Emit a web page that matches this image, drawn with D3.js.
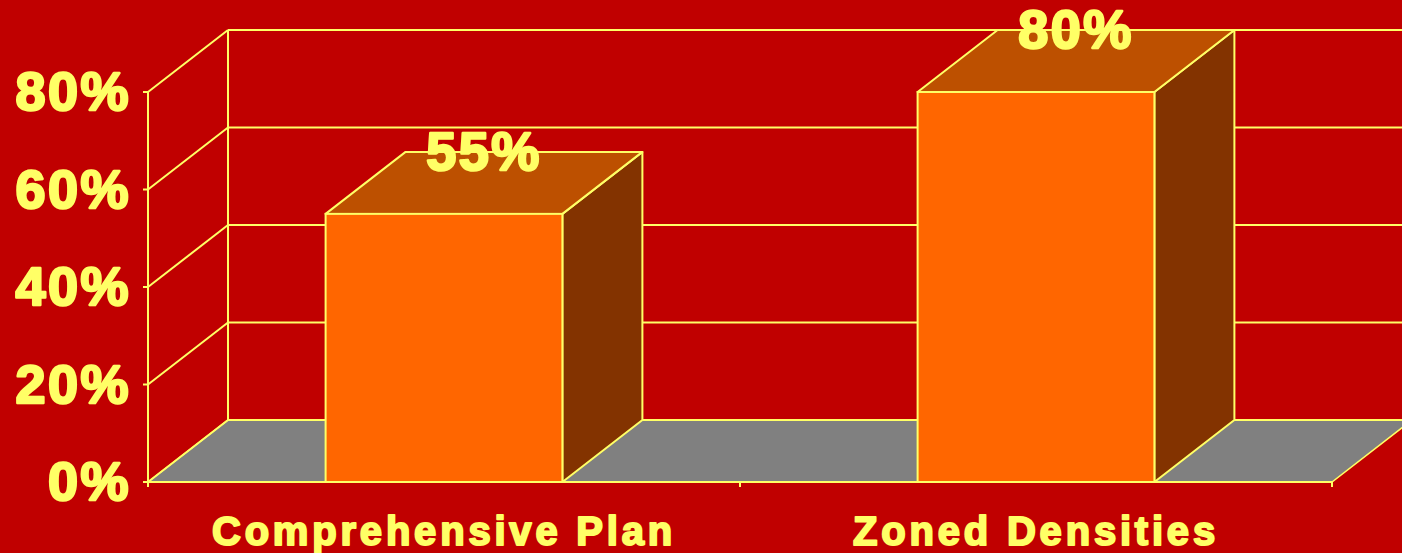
<!DOCTYPE html>
<html>
<head>
<meta charset="utf-8">
<script src="https://cdn.jsdelivr.net/npm/d3@7"></script>
<style>
  html, body { margin: 0; padding: 0; background: #C00000; overflow: hidden; }
</style>
</head>
<body>
<div class="canvas"></div>
<script>
const categories = ['Comprehensive Plan', 'Zoned Densities'];
const values = [0.55, 0.80];
const tickValues = [0, 0.2, 0.4, 0.6, 0.8];
const tickLabels = ['0%', '20%', '40%', '60%', '80%'];

const width = 1402, height = 553;
const yellow = '#FFFF66';
const depthX = 80, depthY = -62;   // 3d offset of back plane

const svg = d3.select('.canvas')
    .append('svg')
    .attr('width', width)
    .attr('height', height)
    .style('display', 'block')
    .style('background', '#C00000');

const x = d3.scaleBand()
    .domain(categories)
    .range([148, 1332])
    .paddingInner(0.6)
    .paddingOuter(0.3);

const y = d3.scaleLinear()
    .domain([0, 0.8])
    .range([482, 92]);

const x0 = x.range()[0], x1 = x.range()[1];
const y0 = y(0);

// floor
svg.append('path')
    .attr('d', `M${x0},${y0} L${x0 + depthX},${y0 + depthY} L${x1 + depthX},${y0 + depthY} L${x1},${y0} Z`)
    .attr('fill', '#808080')
    .attr('stroke', yellow)
    .attr('stroke-width', 1.5);

// back wall gridlines
svg.selectAll('.grid')
    .data(tickValues)
    .enter().append('line')
    .attr('class', 'grid')
    .attr('x1', x0 + depthX)
    .attr('x2', x1 + depthX)
    .attr('y1', d => y(d) + depthY)
    .attr('y2', d => y(d) + depthY)
    .attr('stroke', yellow)
    .attr('stroke-width', 2);

// side wall diagonals
svg.selectAll('.diag')
    .data(tickValues)
    .enter().append('line')
    .attr('class', 'diag')
    .attr('x1', x0)
    .attr('y1', d => y(d))
    .attr('x2', x0 + depthX)
    .attr('y2', d => y(d) + depthY)
    .attr('stroke', yellow)
    .attr('stroke-width', 2);

// back wall left edge
svg.append('line')
    .attr('x1', x0 + depthX).attr('x2', x0 + depthX)
    .attr('y1', y(0.8) + depthY).attr('y2', y0 + depthY)
    .attr('stroke', yellow).attr('stroke-width', 2);

// front value axis
svg.append('line')
    .attr('x1', x0).attr('x2', x0)
    .attr('y1', y(0.8)).attr('y2', y0)
    .attr('stroke', yellow).attr('stroke-width', 2);

svg.selectAll('.ytick')
    .data(tickValues)
    .enter().append('line')
    .attr('x1', x0 - 5).attr('x2', x0)
    .attr('y1', d => y(d)).attr('y2', d => y(d))
    .attr('stroke', yellow).attr('stroke-width', 2);

// category axis baseline + ticks
svg.append('line')
    .attr('x1', x0).attr('x2', x1)
    .attr('y1', y0).attr('y2', y0)
    .attr('stroke', yellow).attr('stroke-width', 2);

const catTicks = d3.range(categories.length + 1).map(i => x0 + i * x.step());
svg.selectAll('.xtick')
    .data(catTicks)
    .enter().append('line')
    .attr('x1', d => d).attr('x2', d => d)
    .attr('y1', y0).attr('y2', y0 + 5)
    .attr('stroke', yellow).attr('stroke-width', 2);

// bars
const bars = svg.selectAll('.bar')
    .data(categories.map((c, i) => ({ cat: c, value: values[i] })))
    .enter().append('g')
    .attr('class', 'bar');

bars.append('path')   // side
    .attr('d', d => {
        const r = x(d.cat) + x.bandwidth(), t = y(d.value);
        return `M${r},${y0} L${r + depthX},${y0 + depthY} L${r + depthX},${t + depthY} L${r},${t} Z`;
    })
    .attr('fill', '#833300')
    .attr('stroke', yellow).attr('stroke-width', 2).attr('stroke-linejoin', 'round');

bars.append('path')   // top
    .attr('d', d => {
        const l = x(d.cat), r = l + x.bandwidth(), t = y(d.value);
        return `M${l},${t} L${l + depthX},${t + depthY} L${r + depthX},${t + depthY} L${r},${t} Z`;
    })
    .attr('fill', '#BD5000')
    .attr('stroke', yellow).attr('stroke-width', 2).attr('stroke-linejoin', 'round');

bars.append('rect')   // front
    .attr('x', d => x(d.cat))
    .attr('y', d => y(d.value))
    .attr('width', x.bandwidth())
    .attr('height', d => y0 - y(d.value))
    .attr('fill', '#FF6600')
    .attr('stroke', yellow).attr('stroke-width', 2);

const font = "'Liberation Sans', Arial, sans-serif";

// value labels
bars.append('text')
    .attr('x', d => x(d.cat) + x.bandwidth() / 2 + depthX / 2)
    .attr('y', d => y(d.value) + depthY + 18)
    .attr('text-anchor', 'middle')
    .attr('font-family', font)
    .attr('font-weight', 'bold')
    .attr('font-size', 54)
    .attr('letter-spacing', 2.5)
    .attr('fill', yellow)
    .attr('stroke', yellow)
    .attr('stroke-width', 2.5)
    .attr('stroke-linejoin', 'round')
    .text(d => d3.format('.0%')(d.value));

// y labels
svg.selectAll('.ylabel')
    .data(tickValues)
    .enter().append('text')
    .attr('x', 131)
    .attr('y', d => y(d) + 18)
    .attr('text-anchor', 'end')
    .attr('font-family', font)
    .attr('font-weight', 'bold')
    .attr('font-size', 54)
    .attr('letter-spacing', 2.5)
    .attr('fill', yellow)
    .attr('stroke', yellow)
    .attr('stroke-width', 2.5)
    .attr('stroke-linejoin', 'round')
    .text((d, i) => tickLabels[i]);

// category labels
svg.selectAll('.xlabel')
    .data(categories)
    .enter().append('text')
    .attr('x', d => x(d) + x.bandwidth() / 2)
    .attr('y', 545)
    .attr('text-anchor', 'middle')
    .attr('font-family', font)
    .attr('font-weight', 'bold')
    .attr('font-size', 40)
    .attr('letter-spacing', 3.8)
    .attr('fill', yellow)
    .attr('stroke', yellow)
    .attr('stroke-width', 2)
    .attr('stroke-linejoin', 'round')
    .text(d => d);
</script>
</body>
</html>
